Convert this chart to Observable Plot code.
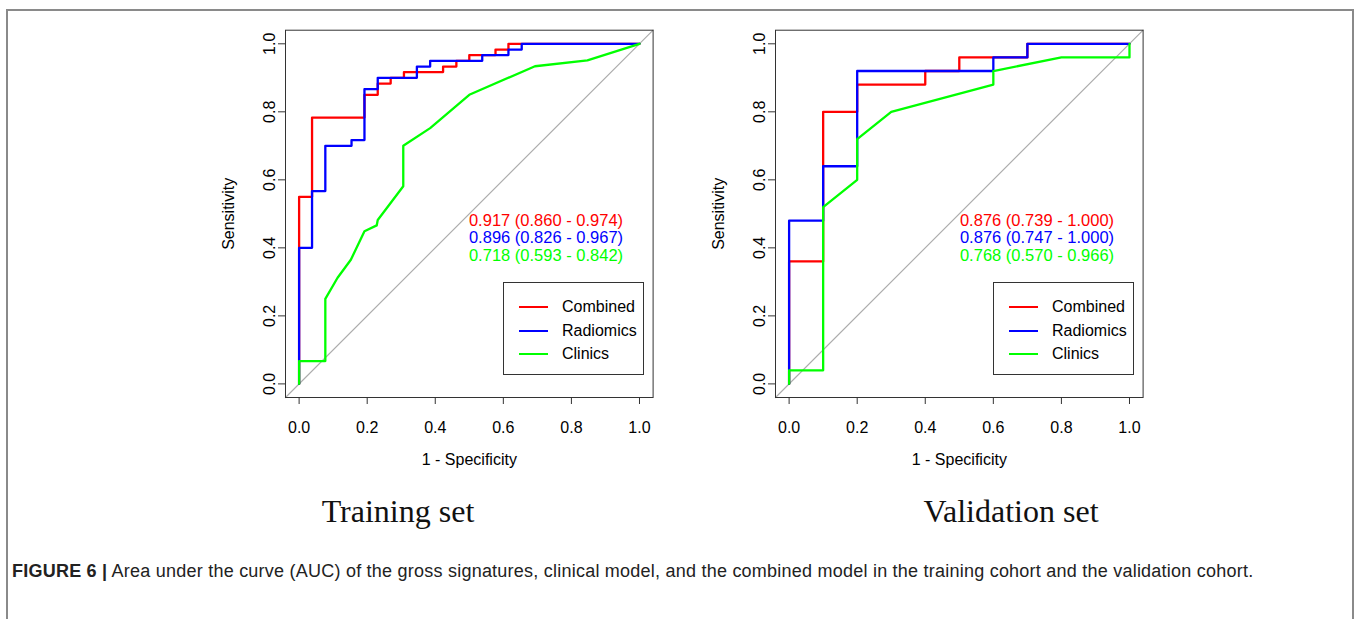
<!DOCTYPE html>
<html>
<head>
<meta charset="utf-8">
<script src="https://cdn.jsdelivr.net/npm/d3@7"></script>
<script src="https://cdn.jsdelivr.net/npm/@observablehq/plot@0.6"></script>
<style>
  html, body { margin: 0; padding: 0; background: #fff; }
  #page { position: relative; width: 1357px; height: 619px; overflow: hidden; font-family: "Liberation Sans", Arial, sans-serif; }
  .frame-top { position: absolute; left: 7px; top: 9px; width: 1347px; height: 2px; background: #8a8a8a; }
  .frame-left { position: absolute; left: 6px; top: 9px; width: 2px; height: 620px; background: #8a8a8a; }
  .frame-right { position: absolute; left: 1352px; top: 9px; width: 2px; height: 620px; background: #8a8a8a; }
  .panel { position: absolute; top: 10px; }
  .auc { position: absolute; font-size: 16.5px; white-space: nowrap; transform: translate(-50%, -50%); line-height: 1; }
  .legend { position: absolute; border: 1px solid #333; box-sizing: border-box; }
  .legend .row { position: absolute; left: 0; height: 0; }
  .legend .sw { position: absolute; left: 15px; top: -1px; width: 29px; height: 2px; }
  .legend .lb { position: absolute; left: 58px; top: -9px; font-size: 16px; line-height: 18px; white-space: nowrap; color: #000; }
  .setname { position: absolute; font-family: "Liberation Serif", "Times New Roman", serif; font-size: 32px; transform: translateX(-50%); white-space: nowrap; color: #111; }
  .caption { position: absolute; left: 12px; top: 561px; font-size: 18px; letter-spacing: 0.23px; white-space: nowrap; color: #222; }
  .caption b { font-weight: bold; }
</style>
</head>
<body>
<div id="page">
  <div class="frame-top"></div>
  <div class="frame-left"></div>
  <div class="frame-right"></div>
</div>
<script>
// ---------- data ----------
const tickVals = [0, 0.2, 0.4, 0.6, 0.8, 1.0];
const seriesNames = ["Combined", "Radiomics", "Clinics"];
const seriesColors = ["#FF0000", "#0000FF", "#00FF00"];
const panelTitles = ["Training set", "Validation set"];
const xLabel = "1 - Specificity";
const yLabel = "Sensitivity";

// Training set ROC vertices (1 - specificity, sensitivity)
const trainCombinedX = [0,0,0.038,0.038,0.192,0.192,0.231,0.231,0.269,0.269,0.308,0.308,0.423,0.423,0.462,0.462,0.5,0.5,0.577,0.577,0.615,0.615,1];
const trainCombinedY = [0,0.55,0.55,0.783,0.783,0.85,0.85,0.883,0.883,0.9,0.9,0.917,0.917,0.933,0.933,0.95,0.95,0.967,0.967,0.983,0.983,1,1];
const trainRadiomicsX = [0,0,0.038,0.038,0.077,0.077,0.154,0.154,0.192,0.192,0.231,0.231,0.346,0.346,0.385,0.385,0.538,0.538,0.615,0.615,0.654,0.654,1];
const trainRadiomicsY = [0,0.4,0.4,0.567,0.567,0.7,0.7,0.717,0.717,0.867,0.867,0.9,0.9,0.933,0.933,0.95,0.95,0.967,0.967,0.983,0.983,1,1];
const trainClinicsX = [0,0,0.077,0.077,0.113,0.152,0.192,0.228,0.231,0.306,0.306,0.385,0.5,0.693,0.847,1];
const trainClinicsY = [0,0.067,0.067,0.25,0.312,0.365,0.449,0.466,0.482,0.581,0.7,0.752,0.85,0.934,0.951,1];

// Validation set ROC vertices
const validCombinedX = [0,0,0.1,0.1,0.2,0.2,0.4,0.4,0.5,0.5,0.7,0.7,1];
const validCombinedY = [0,0.36,0.36,0.8,0.8,0.88,0.88,0.92,0.92,0.96,0.96,1,1];
const validRadiomicsX = [0,0,0.1,0.1,0.2,0.2,0.6,0.6,0.7,0.7,1];
const validRadiomicsY = [0,0.48,0.48,0.64,0.64,0.92,0.92,0.96,0.96,1,1];
const validClinicsX = [0,0,0.1,0.1,0.2,0.2,0.3,0.6,0.6,0.8,1,1];
const validClinicsY = [0,0.04,0.04,0.52,0.6,0.72,0.8,0.88,0.92,0.96,0.96,1];

// AUC labels
const trainAUC = ["0.917 (0.860 - 0.974)", "0.896 (0.826 - 0.967)", "0.718 (0.593 - 0.842)"];
const validAUC = ["0.876 (0.739 - 1.000)", "0.876 (0.747 - 1.000)", "0.768 (0.570 - 0.966)"];

const captionBold = "FIGURE 6 |";
const captionText = " Area under the curve (AUC) of the gross signatures, clinical model, and the combined model in the training cohort and the validation cohort.";

// ---------- build ----------
function toRows(xs, ys, name) { return xs.map((x, i) => ({x, y: ys[i], name})); }

const panels = [
  { left: 190, series: [[trainCombinedX, trainCombinedY], [trainRadiomicsX, trainRadiomicsY], [trainClinicsX, trainClinicsY]],
    auc: trainAUC, aucX: 546, legendLeft: 503, titleX: 398 },
  { left: 680, series: [[validCombinedX, validCombinedY], [validRadiomicsX, validRadiomicsY], [validClinicsX, validClinicsY]],
    auc: validAUC, aucX: 1037, legendLeft: 993, titleX: 1011 }
];

const page = document.getElementById("page");
const pad = 0.04;
const dom = [0 - pad, 1 + pad];

panels.forEach((p, pi) => {
  const marks = [
    Plot.line(dom.map(v => ({x: v, y: v})), {x: "x", y: "y", stroke: "#ADADAD", strokeWidth: 1.2}),
  ];
  p.series.forEach(([xs, ys], si) => {
    marks.push(Plot.line(toRows(xs, ys, seriesNames[si]), {x: "x", y: "y", stroke: seriesColors[si], strokeWidth: 2.3}));
  });
  marks.push(Plot.frame({stroke: "#333", strokeWidth: 1}));
  marks.push(Plot.axisX({ticks: tickVals, tickFormat: d => d.toFixed(1), tickSize: 7, tickPadding: 17, fontSize: 16,
    label: xLabel, labelAnchor: "center", labelArrow: "none", labelOffset: 67, stroke: "#333"}));
  marks.push(Plot.axisY({ticks: tickVals, tickFormat: d => d.toFixed(1), tickSize: 7, tickPadding: 4, tickRotate: -90, fontSize: 16,
    label: yLabel, labelAnchor: "center", labelArrow: "none", labelOffset: 63, stroke: "#333"}));

  const svg = Plot.plot({
    width: 480, height: 480,
    marginLeft: 95, marginRight: 17.4, marginTop: 19.7, marginBottom: 93,
    x: {domain: dom}, y: {domain: dom},
    style: {fontFamily: "Liberation Sans, Arial, sans-serif", fontSize: "16px", color: "#000", background: "transparent"},
    marks
  });
  const wrap = document.createElement("div");
  wrap.className = "panel";
  wrap.style.left = p.left + "px";
  wrap.appendChild(svg);
  page.appendChild(wrap);

  // AUC text
  const aucY = [219.5, 237, 254.5];
  p.auc.forEach((t, i) => {
    const d = document.createElement("div");
    d.className = "auc";
    d.style.left = p.aucX + "px";
    d.style.top = aucY[i] + "px";
    d.style.color = seriesColors[i];
    d.textContent = t;
    page.appendChild(d);
  });

  // legend
  const lg = document.createElement("div");
  lg.className = "legend";
  lg.style.left = p.legendLeft + "px";
  lg.style.top = "282px";
  lg.style.width = "141px";
  lg.style.height = "93px";
  const rowY = [24, 47.5, 71];
  seriesNames.forEach((n, i) => {
    const r = document.createElement("div");
    r.className = "row";
    r.style.top = rowY[i] + "px";
    const sw = document.createElement("div");
    sw.className = "sw";
    sw.style.background = seriesColors[i];
    const lb = document.createElement("div");
    lb.className = "lb";
    lb.textContent = n;
    r.appendChild(sw);
    r.appendChild(lb);
    lg.appendChild(r);
  });
  page.appendChild(lg);

  const t = document.createElement("div");
  t.className = "setname";
  t.style.left = p.titleX + "px";
  t.style.top = "493px";
  t.textContent = panelTitles[pi];
  page.appendChild(t);
});

const cap = document.createElement("div");
cap.className = "caption";
cap.innerHTML = `<b>${captionBold}</b>${captionText}`;
page.appendChild(cap);
</script>
</body>
</html>
